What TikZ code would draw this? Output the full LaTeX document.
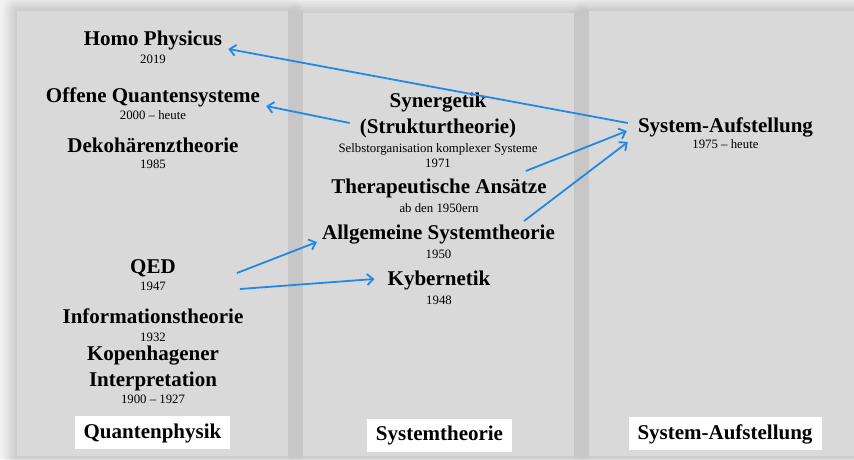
\documentclass[tikz,border=0pt]{standalone}
\usepackage{fontspec}
\setmainfont{Liberation Serif}
\usetikzlibrary{arrows.meta, positioning}
\definecolor{panelgrau}{RGB}{217,217,217}
\definecolor{pfeilblau}{RGB}{33,137,229}
\definecolor{grund}{RGB}{243,243,243}
\tikzstyle{panel}=[fill=panelgrau]
\tikzstyle{schatten}=[fill=black, fill opacity=0.016]
\tikzstyle{titel}=[font=\bfseries\fontsize{21}{26}\selectfont, inner sep=0pt, anchor=base, align=center]
\tikzstyle{jahr}=[font=\fontsize{12.8}{15}\selectfont, inner sep=0pt, anchor=base]
\tikzstyle{etikett}=[fill=white, font=\bfseries\fontsize{21}{26}\selectfont, inner xsep=9pt, text height=15pt, text depth=4pt, minimum height=33pt, anchor=base]
\tikzstyle{pfeil}=[draw=pfeilblau, line width=1.8pt, -{Straight Barb[length=6pt,width=11pt]}]

\begin{document}
\begin{tikzpicture}[x=1pt, y=-1pt]
    \useasboundingbox[fill=grund] (0,0) rectangle (854,459);
    % Spalten mit weichem Schatten
    \foreach \xa/\ya/\xb in {17/11/288, 303/13/574, 589/11/880} {
        \foreach \r in {1.5,3,...,15}
            \fill[schatten, rounded corners=\r pt] (\xa-\r,\ya-\r) rectangle (\xb+\r,456+\r);
        \path[panel] (\xa,\ya) rectangle (\xb,456);
    }
    % Quantenphysik
    \node[titel] (hp) at (153,45) {Homo Physicus};
    \node[jahr] (hpj) at ([yshift=-18pt]hp.base) {2019};
    \node[titel] (oq) at (153,102) {Offene Quantensysteme};
    \node[jahr] (oqj) at ([yshift=-17pt]oq.base) {2000 -- heute};
    \node[titel] (dk) at (153,152) {Dekohärenztheorie};
    \node[jahr] (dkj) at ([yshift=-16pt]dk.base) {1985};
    \node[titel] (qed) at (153,273) {QED};
    \node[jahr] (qedj) at ([yshift=-17pt]qed.base) {1947};
    \node[titel] (it) at (153,323) {Informationstheorie};
    \node[jahr] (itj) at ([yshift=-18pt]it.base) {1932};
    \node[titel] (kp) at (153,386) {Kopenhagener\\Interpretation};
    \node[jahr] (kpj) at ([yshift=-17pt]kp.base) {1900 -- 1927};
    \node[etikett] (lq) at (152.5,438) {Quantenphysik};
    % Systemtheorie
    \node[titel] (syn) at (438,133) {Synergetik\\(Strukturtheorie)};
    \node[jahr] (synu) at ([yshift=-19pt]syn.base) {Selbstorganisation komplexer Systeme};
    \node[jahr] (synj) at ([yshift=-15pt]synu.base) {1971};
    \node[titel] (ta) at (439,193) {Therapeutische Ansätze};
    \node[jahr] (taj) at ([yshift=-19pt]ta.base) {ab den 1950ern};
    \node[titel] (ast) at (438.5,239) {Allgemeine Systemtheorie};
    \node[jahr] (astj) at ([yshift=-19pt]ast.base) {1950};
    \node[titel] (ky) at (439,285) {Kybernetik};
    \node[jahr] (kyj) at ([yshift=-19pt]ky.base) {1948};
    \node[etikett] (ls) at (439.5,440.5) {Systemtheorie};
    % System-Aufstellung
    \node[titel] (sa) at (725.5,132) {System-Aufstellung};
    \node[jahr] (saj) at ([yshift=-16pt]sa.base) {1975 -- heute};
    \node[etikett] (la) at (725,439) {System-Aufstellung};
    % Pfeile
    \draw[pfeil] ([xshift=-10pt,yshift=9pt]sa.base west) -- ([xshift=6pt,yshift=-4pt]hp.base east);
    \draw[pfeil] ([xshift=-10pt,yshift=10pt]syn.base west) -- ([xshift=6pt,yshift=-4pt]oq.base east);
    \draw[pfeil] ([xshift=-21pt,yshift=22pt]ta.base east) -- ([xshift=-11pt,yshift=1pt]sa.base west);
    \draw[pfeil] ([xshift=-31pt,yshift=18pt]ast.base east) -- ([xshift=-10pt,yshift=-10pt]sa.base west);
    \draw[pfeil] ([xshift=61pt]qed.base east) -- ([xshift=-5pt,yshift=-3pt]ast.base west);
    \draw[pfeil] ([xshift=64pt,yshift=-16pt]qed.base east) -- ([xshift=-13pt,yshift=6pt]ky.base west);
\end{tikzpicture}
\end{document}
